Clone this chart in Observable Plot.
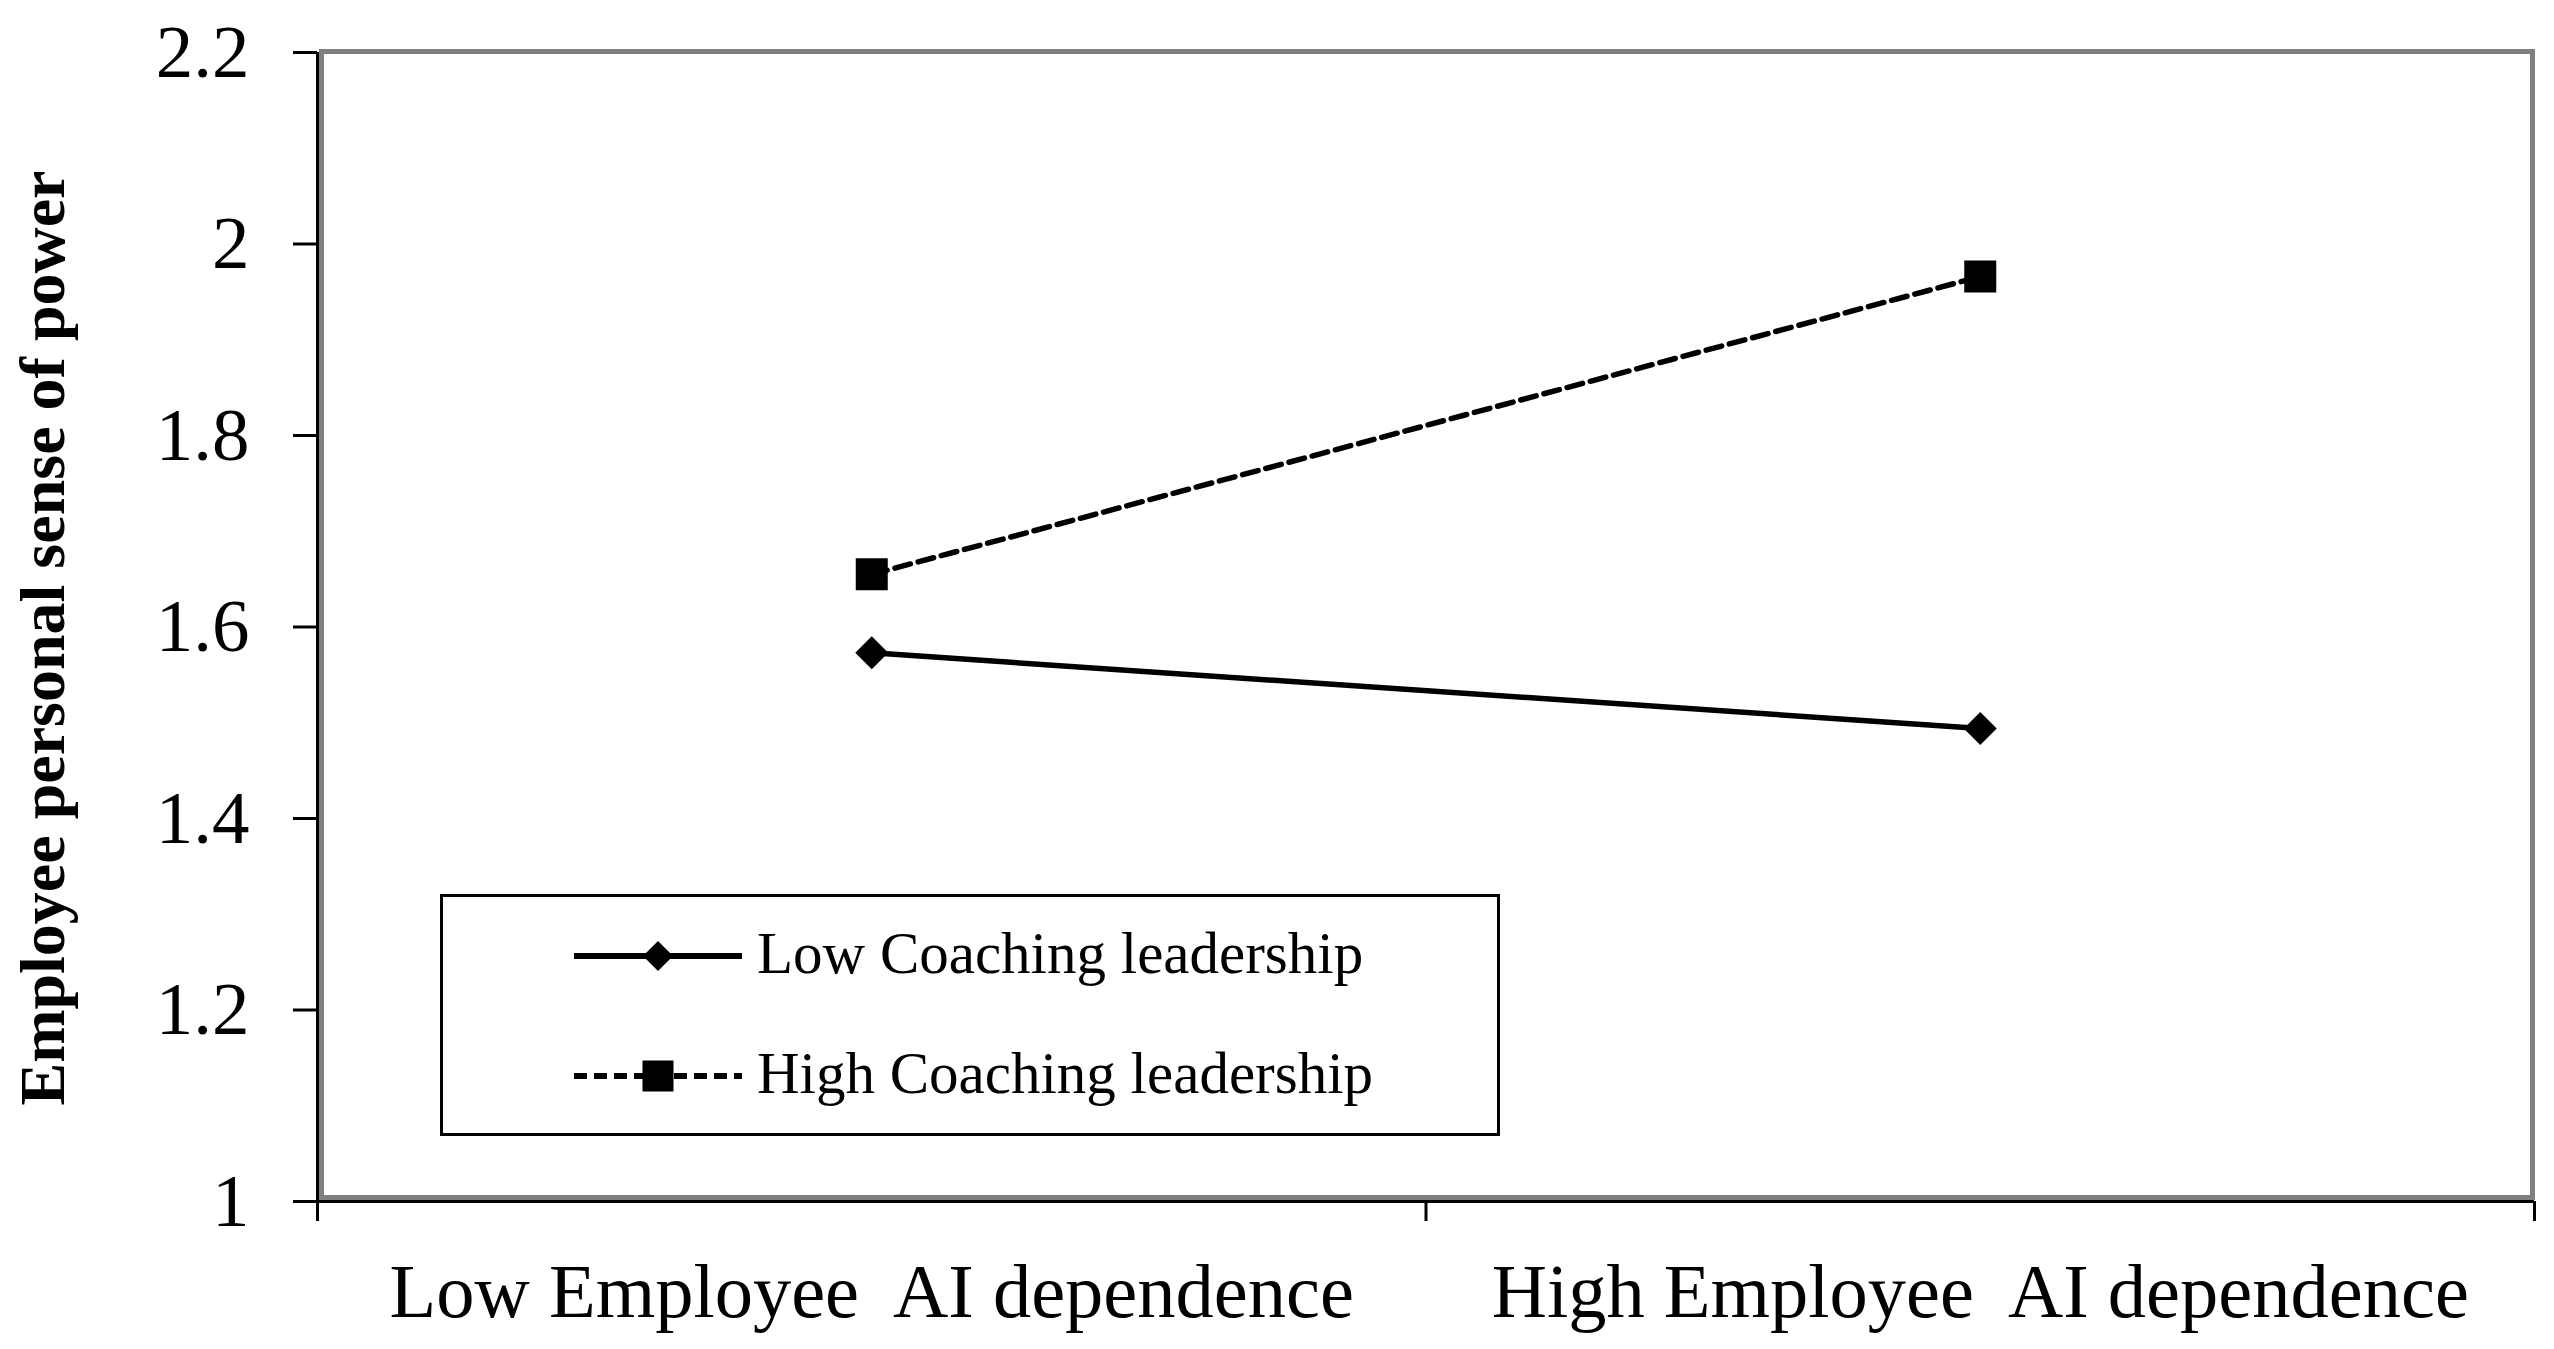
<!DOCTYPE html>
<html><head><meta charset="utf-8">
<script src="https://cdn.jsdelivr.net/npm/d3@7"></script>
<script src="https://cdn.jsdelivr.net/npm/@observablehq/plot@0.6"></script>
<style>
html,body{margin:0;padding:0;background:#fff;}
#wrap{position:relative;width:2554px;height:1349px;}
svg text{white-space:pre;}
#legend{position:absolute;left:0;top:0;pointer-events:none;}
</style></head><body><div id="wrap"></div>
<script>
const categories = ["Low Employee  AI dependence", "High Employee  AI dependence"];
const seriesNames = ["Low Coaching leadership", "High Coaching leadership"];
const lowCoaching = [1.573, 1.494];
const highCoaching = [1.655, 1.966];
const yTicks = [1, 1.2, 1.4, 1.6, 1.8, 2, 2.2];
const yLabel = "Employee personal sense of power";

const rows = [];
categories.forEach((c, i) => {
  rows.push({pos: i + 0.5, value: lowCoaching[i], series: seriesNames[0]});
  rows.push({pos: i + 0.5, value: highCoaching[i], series: seriesNames[1]});
});
const lowRows = rows.filter(d => d.series === seriesNames[0]);
const highRows = rows.filter(d => d.series === seriesNames[1]);

const serif = "'Liberation Serif', 'Times New Roman', serif";

// diamond whose half-diagonal equals r (size = PI r^2)
const diamond = {
  draw(context, size) {
    const h = Math.sqrt(size / Math.PI);
    context.moveTo(0, -h);
    context.lineTo(h, 0);
    context.lineTo(0, h);
    context.lineTo(-h, 0);
    context.closePath();
  }
};
// square whose half-side equals r (size = PI r^2)
const square = {
  draw(context, size) {
    const h = Math.sqrt(size / Math.PI);
    context.rect(-h, -h, 2 * h, 2 * h);
  }
};

const chart = Plot.plot({
  width: 2554, height: 1349,
  marginLeft: 317, marginRight: 20, marginTop: 52, marginBottom: 148,
  style: {fontFamily: serif, fontSize: "75px", background: "#fff", color: "#000", overflow: "visible"},
  x: {domain: [0, categories.length]},
  y: {domain: [1, 2.2]},
  marks: [
    Plot.frame({stroke: "#808080", strokeWidth: 5, insetLeft: 4, insetRight: 2, insetTop: -1, insetBottom: 4}),
    Plot.axisY({ticks: yTicks, tickSize: 24, tickPadding: 44, tickFormat: d => String(d), strokeWidth: 3, fontSize: 75, label: null}),
    Plot.axisX({ticks: d3.range(categories.length + 1), tickSize: 20, tickFormat: () => "", strokeWidth: 3, label: null}),
    Plot.axisX({ticks: categories.map((c, i) => i + 0.5), tickSize: 0, tickPadding: 61, tickFormat: d => categories[Math.floor(d)], fontSize: 76.5, label: null}),
    Plot.ruleX([0], {stroke: "#000", strokeWidth: 3}),
    Plot.ruleY([1], {stroke: "#000", strokeWidth: 3}),
    Plot.line(lowRows, {x: "pos", y: "value", stroke: "#000", strokeWidth: 5.5}),
    Plot.line(highRows, {x: "pos", y: "value", stroke: "#000", strokeWidth: 5.5, strokeDasharray: "16,8"}),
    Plot.dot(lowRows, {x: "pos", y: "value", symbol: diamond, r: 16.5, fill: "#000", stroke: "none"}),
    Plot.dot(highRows, {x: "pos", y: "value", symbol: square, r: 16, fill: "#000", stroke: "none"}),
    Plot.text([yLabel], {frameAnchor: "left", text: d => d, rotate: -90, dx: -274, dy: 11, fontSize: 64, fontWeight: "bold", textAnchor: "middle", lineAnchor: "middle"})
  ]
});
const wrap = document.getElementById("wrap");
wrap.appendChild(chart);

// Legend overlay
const lg = d3.create("svg").attr("id", "legend").attr("width", 2554).attr("height", 1349);
lg.append("rect").attr("x", 441.5).attr("y", 895.5).attr("width", 1057).attr("height", 239)
  .attr("fill", "#fff").attr("stroke", "#000").attr("stroke-width", 3);
const entries = [
  {name: seriesNames[0], y: 956, dash: null, sym: diamond, half: 15},
  {name: seriesNames[1], y: 1076, dash: "13,7", sym: square, half: 15.5}
];
entries.forEach(e => {
  lg.append("line").attr("x1", 574).attr("x2", 742).attr("y1", e.y).attr("y2", e.y)
    .attr("stroke", "#000").attr("stroke-width", 6).attr("stroke-dasharray", e.dash);
  lg.append("path").attr("d", d3.symbol(e.sym, Math.PI * e.half * e.half)()).attr("transform", `translate(658,${e.y})`).attr("fill", "#000");
  lg.append("text").attr("x", 757).attr("y", e.y + 17).attr("font-family", serif).attr("font-size", 59)
    .attr("fill", "#000").text(e.name);
});
wrap.appendChild(lg.node());
</script></body></html>
